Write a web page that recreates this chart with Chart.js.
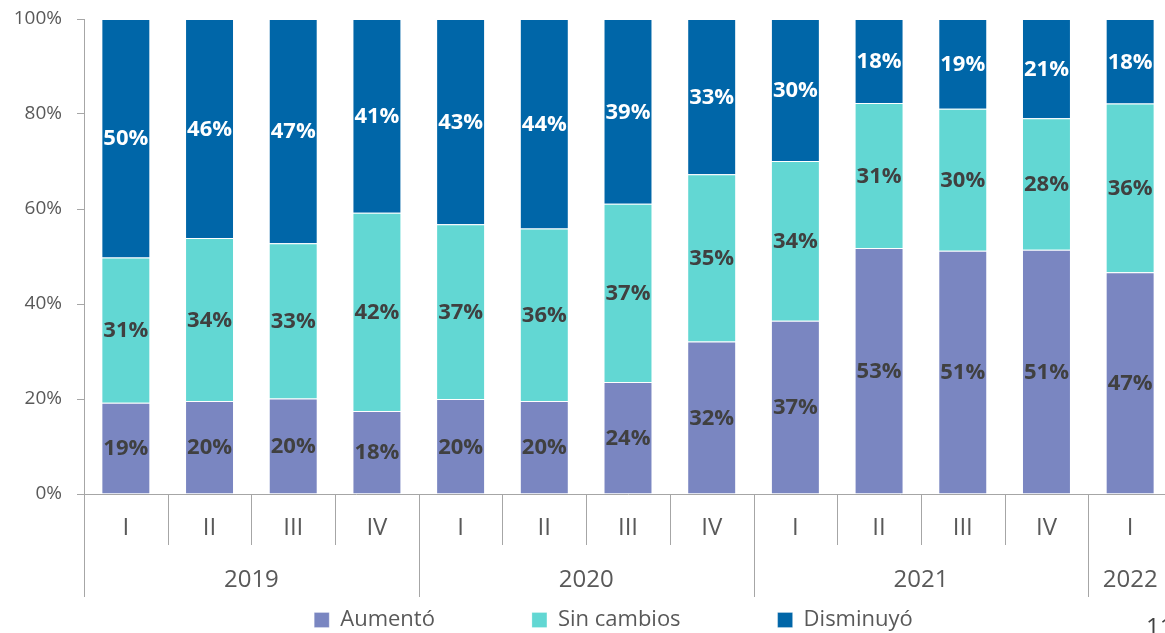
<!DOCTYPE html>
<html>
<head>
<meta charset="utf-8">
<script src="https://cdn.jsdelivr.net/npm/chart.js@4/dist/chart.umd.min.js"></script>
<style>
  html, body { margin: 0; padding: 0; background: #ffffff; overflow: hidden; width: 1165px; height: 633px; }
  #wrap { position: absolute; left: 0; top: 0; width: 1227px; height: 641px; }
</style>
</head>
<body>
<div id="wrap"><canvas id="c" width="1227" height="641"></canvas></div>
<script>
const quarters = ['I', 'II', 'III', 'IV', 'I', 'II', 'III', 'IV', 'I', 'II', 'III', 'IV', 'I'];
const years = ['2019', '2020', '2021', '2022'];
const yearSpans = [4, 4, 4, 1];
const yTicks = [0, 20, 40, 60, 80, 100];

const aumento    = [19.2, 19.6, 20.1, 17.5, 20.0, 19.6, 23.6, 32.1, 36.5, 51.8, 51.2, 51.4, 46.7];
const sinCambios = [30.6, 34.3, 32.7, 41.7, 36.8, 36.3, 37.5, 35.2, 33.6, 30.5, 29.9, 27.7, 35.5];
const disminuyo  = [50.2, 46.1, 47.2, 40.8, 43.2, 44.1, 38.9, 32.7, 29.9, 17.7, 18.9, 20.9, 17.8];

const aumentoLabels    = [19, 20, 20, 18, 20, 20, 24, 32, 37, 53, 51, 51, 47];
const sinCambiosLabels = [31, 34, 33, 42, 37, 36, 37, 35, 34, 31, 30, 28, 36];
const disminuyoLabels  = [50, 46, 47, 41, 43, 44, 39, 33, 30, 18, 19, 21, 18];

const seriesNames = ['Aumentó', 'Sin cambios', 'Disminuyó'];
const pageNumber = '11';

const FONT = "'Open Sans', 'Noto Sans', sans-serif";
const AXIS_COLOR = '#A6A6A6';
const TEXT_COLOR = '#595959';
const CHART_BOTTOM = 494;
const CANVAS_H = 641;

const labelPlugin = {
  id: 'segmentLabels',
  afterDatasetsDraw(chart) {
    const ctx = chart.ctx;
    const allLabels = [aumentoLabels, sinCambiosLabels, disminuyoLabels];
    const colors = ['#404040', '#404040', '#ffffff'];
    ctx.save();
    ctx.font = "bold 22px " + FONT;
    ctx.textAlign = 'center';
    ctx.textBaseline = 'middle';
    chart.data.datasets.forEach((ds, d) => {
      const meta = chart.getDatasetMeta(d);
      meta.data.forEach((bar, i) => {
        const cy = (bar.y + bar.base) / 2;
        ctx.fillStyle = colors[d];
        ctx.fillText(allLabels[d][i] + '%', bar.x, cy + 1);
      });
    });
    ctx.restore();
  }
};

const axisPlugin = {
  id: 'multiAxis',
  afterDraw(chart) {
    const ctx = chart.ctx;
    const xs = chart.scales.x;
    const bottom = chart.chartArea.bottom;
    const n = quarters.length;
    const half = (xs.getPixelForValue(1) - xs.getPixelForValue(0)) / 2;
    const yearStarts = [];
    let acc = 0;
    yearSpans.forEach(s => { yearStarts.push(acc); acc += s; });
    yearStarts.push(acc);
    ctx.save();
    ctx.strokeStyle = AXIS_COLOR;
    ctx.lineWidth = 1;
    for (let i = 0; i <= n; i++) {
      const x = Math.round(i < n ? xs.getPixelForValue(i) - half : xs.getPixelForValue(n - 1) + half) + 0.5;
      const isYear = yearStarts.includes(i);
      ctx.beginPath();
      ctx.moveTo(x, bottom);
      ctx.lineTo(x, bottom + (isYear ? 103 : 51));
      ctx.stroke();
    }
    ctx.fillStyle = TEXT_COLOR;
    ctx.font = "24px " + FONT;
    ctx.textAlign = 'center';
    ctx.textBaseline = 'middle';
    quarters.forEach((q, i) => {
      ctx.fillText(q, xs.getPixelForValue(i), bottom + 34);
    });
    years.forEach((y, k) => {
      const a = yearStarts[k], b = yearStarts[k + 1] - 1;
      const cx = (xs.getPixelForValue(a) + xs.getPixelForValue(b)) / 2;
      ctx.fillText(y, cx, bottom + 86);
    });
    ctx.fillStyle = '#404040';
    ctx.textAlign = 'left';
    ctx.fillText(pageNumber, 1146, 628);
    ctx.restore();
  }
};

new Chart(document.getElementById('c'), {
  type: 'bar',
  data: {
    labels: quarters,
    datasets: [
      { label: seriesNames[0], data: aumento, backgroundColor: '#7A86C1', borderColor: 'rgba(255,255,255,0.25)', borderWidth: 1 },
      { label: seriesNames[1], data: sinCambios, backgroundColor: '#62D7D3', borderColor: 'rgba(255,255,255,0.25)', borderWidth: 1 },
      { label: seriesNames[2], data: disminuyo, backgroundColor: '#0066A8', borderColor: 'rgba(255,255,255,0.25)', borderWidth: 1 }
    ]
  },
  options: {
    responsive: false,
    animation: false,
    devicePixelRatio: 1,
    layout: { padding: { left: 0, right: 0, top: 19, bottom: 0 } },
    datasets: { bar: { categoryPercentage: 1.0, barPercentage: 0.585 } },
    plugins: {
      tooltip: { enabled: false },
      legend: {
        position: 'bottom',
        labels: {
          font: { family: FONT, size: 22 },
          color: TEXT_COLOR,
          boxWidth: 15,
          boxHeight: 15,
          padding: 97
        }
      }
    },
    scales: {
      x: {
        stacked: true,
        ticks: { display: false },
        grid: { display: false },
        border: { display: true, color: AXIS_COLOR, width: 1 },
        afterFit(s) {
          const lh = s.chart.legend ? s.chart.legend.height : 0;
          s.height = CANVAS_H - CHART_BOTTOM - lh;
        }
      },
      y: {
        stacked: true,
        min: 0,
        max: 100,
        afterBuildTicks(s) { s.ticks = yTicks.map(v => ({ value: v })); },
        ticks: {
          callback: v => v + '%',
          font: { family: FONT, size: 19 },
          color: TEXT_COLOR,
          padding: 15
        },
        grid: { drawOnChartArea: false, drawTicks: true, tickLength: 7, color: AXIS_COLOR },
        border: { display: true, color: AXIS_COLOR, width: 1 },
        afterFit(s) { s.width = 84; s.paddingTop = 0; s.paddingBottom = 0; }
      },
      yRight: {
        position: 'right',
        display: true,
        min: 0,
        max: 100,
        ticks: { display: false },
        grid: { display: false },
        border: { display: false },
        afterFit(s) { s.width = 55; s.paddingTop = 0; s.paddingBottom = 0; }
      }
    }
  },
  plugins: [labelPlugin, axisPlugin]
});
</script>
</body>
</html>
